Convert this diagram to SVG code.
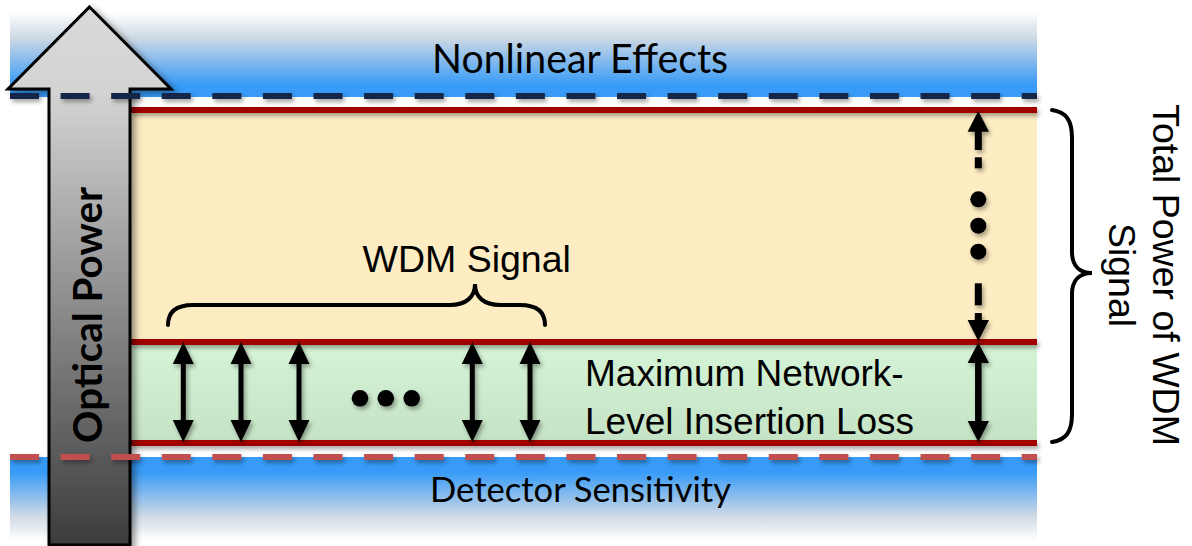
<svg xmlns="http://www.w3.org/2000/svg" width="1192" height="546" viewBox="0 0 1192 546">
<defs>
  <linearGradient id="gTop" gradientUnits="userSpaceOnUse" x1="0" y1="12" x2="0" y2="85">
    <stop offset="0" stop-color="#ffffff"/>
    <stop offset="0.35" stop-color="#cfd9e4"/>
    <stop offset="1" stop-color="#379bf7"/>
  </linearGradient>
  <linearGradient id="gBot" gradientUnits="userSpaceOnUse" x1="0" y1="472" x2="0" y2="540">
    <stop offset="0" stop-color="#379bf7"/>
    <stop offset="0.65" stop-color="#cfd9e4"/>
    <stop offset="1" stop-color="#ffffff"/>
  </linearGradient>
  <linearGradient id="gGreen" x1="0" y1="0" x2="0" y2="1">
    <stop offset="0" stop-color="#d6f4d7"/>
    <stop offset="1" stop-color="#c4e2c4"/>
  </linearGradient>
  <linearGradient id="gArrow" gradientUnits="userSpaceOnUse" x1="0" y1="7" x2="0" y2="545">
    <stop offset="0" stop-color="#dadada"/>
    <stop offset="0.17" stop-color="#d2d2d2"/>
    <stop offset="1" stop-color="#3c3c3c"/>
  </linearGradient>
  <filter id="sh" filterUnits="userSpaceOnUse" x="0" y="0" width="1192" height="546">
    <feDropShadow dx="2" dy="3" stdDeviation="2" flood-color="#000" flood-opacity="0.35"/>
  </filter>
  <filter id="shA" filterUnits="userSpaceOnUse" x="0" y="0" width="1192" height="546">
    <feDropShadow dx="4" dy="3" stdDeviation="3" flood-color="#000" flood-opacity="0.4"/>
  </filter>
  <g id="dbl">
    <line x1="0" y1="18" x2="0" y2="82" stroke="#000" stroke-width="5"/>
    <polygon points="0,0 10.5,22 -10.5,22" fill="#000"/>
    <polygon points="0,100 10.5,78 -10.5,78" fill="#000"/>
  </g>
  <style>
    .red { fill: #a00000; }
    .dashN { stroke: #14284a; stroke-width: 6; stroke-dasharray: 29 21.585; fill: none; }
    .dashR { stroke: #c0504d; stroke-width: 6; stroke-dasharray: 29 21.585; fill: none; }
    .brace { stroke: #000; stroke-width: 4; fill: none; stroke-linecap: round; }
    .arial { font-family: "Liberation Sans", Arial, sans-serif; fill: #000; }
    .cal { font-family: Lato, "Open Sans", sans-serif; fill: #000; }
  </style>
</defs>

<g id="bands">
  <rect id="nonlinear-band" x="10" y="0" width="1027" height="97" fill="url(#gTop)"/>
  <rect id="detector-band" x="10" y="457" width="1027" height="89" fill="url(#gBot)"/>
  <rect id="wdm-band" x="130" y="110" width="907" height="232" fill="#feedc3"/>
  <rect id="loss-band" x="130" y="342" width="907" height="101" fill="url(#gGreen)"/>
  <g filter="url(#sh)">
    <rect class="red" x="130" y="107" width="907" height="6"/>
    <rect class="red" x="130" y="339" width="907" height="6"/>
    <rect class="red" x="130" y="440" width="907" height="6"/>
  </g>
</g>

<g id="optical-power">
  <polygon points="89.5,7 171,89 130,89 130,545 49,545 49,89 8,89" fill="url(#gArrow)" stroke="#000" stroke-width="3" stroke-linejoin="miter" filter="url(#shA)"/>
  <text class="cal" transform="translate(102,315) rotate(-90)" text-anchor="middle" font-size="40" font-weight="bold" textLength="256" lengthAdjust="spacingAndGlyphs">Optical Power</text>
</g>

<g id="limits" filter="url(#sh)">
  <line class="dashN" x1="10" y1="96" x2="1037" y2="96"/>
  <line class="dashR" x1="10" y1="457" x2="1037" y2="457"/>
</g>

<g id="labels">
  <text class="cal" x="432" y="73" font-size="40" textLength="296" lengthAdjust="spacingAndGlyphs">Nonlinear Effects</text>
  <text class="cal" x="430" y="501.5" font-size="34" textLength="301" lengthAdjust="spacingAndGlyphs">Detector Sensitivity</text>
  <text class="arial" x="466.7" y="271.7" font-size="37.5" text-anchor="middle">WDM Signal</text>
  <text class="arial" x="585" y="386" font-size="37">Maximum Network-</text>
  <text class="arial" x="585" y="434" font-size="37">Level Insertion Loss</text>
  <text class="arial" transform="translate(1153,275) rotate(90)" font-size="37.5" text-anchor="middle">Total Power of WDM</text>
  <text class="arial" transform="translate(1109,275) rotate(90)" font-size="37.5" text-anchor="middle">Signal</text>
</g>

<g id="connectors">
  <path class="brace" d="M168,325 C168,312 176,305 193,305 L450,305 C466,305 475,297 475,284 C475,297 484,305 500,305 L520,305 C537,305 545,312 545,325"/>
  <path class="brace" d="M1052,110 C1066,112 1072,120 1072,138 L1072,252 C1072,266 1080,273 1092,273 C1080,273 1072,280 1072,294 L1072,414 C1072,432 1066,440 1052,442"/>
  <g filter="url(#sh)">
    <use href="#dbl" x="183.3" y="342"/>
    <use href="#dbl" x="241" y="342"/>
    <use href="#dbl" x="299" y="342"/>
    <use href="#dbl" x="472.3" y="342"/>
    <use href="#dbl" x="530" y="342"/>
    <g id="total-arrow">
      <line x1="978.3" y1="360" x2="978.3" y2="425" stroke="#000" stroke-width="6.5"/>
      <polygon points="978.3,342.5 989,363 967.6,363"/>
      <polygon points="978.3,442 989,421 967.6,421"/>
    </g>
    <g id="wdm-dashed-arrow">
      <polygon points="978.3,111 989,131.7 967.6,131.7"/>
      <rect x="974.8" y="130" width="7" height="20"/>
      <rect x="974.8" y="157.3" width="7" height="11"/>
      <circle cx="978.3" cy="199.3" r="8"/>
      <circle cx="978.3" cy="225.7" r="8"/>
      <circle cx="978.3" cy="251.7" r="8"/>
      <rect x="974.8" y="283.3" width="7" height="22"/>
      <rect x="974.8" y="313" width="7" height="10"/>
      <polygon points="978.3,341 989,320 967.6,320"/>
    </g>
    <circle cx="360" cy="398.3" r="8.3"/>
    <circle cx="385.8" cy="398.3" r="8.3"/>
    <circle cx="411.7" cy="398.3" r="8.3"/>
  </g>
</g>
</svg>
